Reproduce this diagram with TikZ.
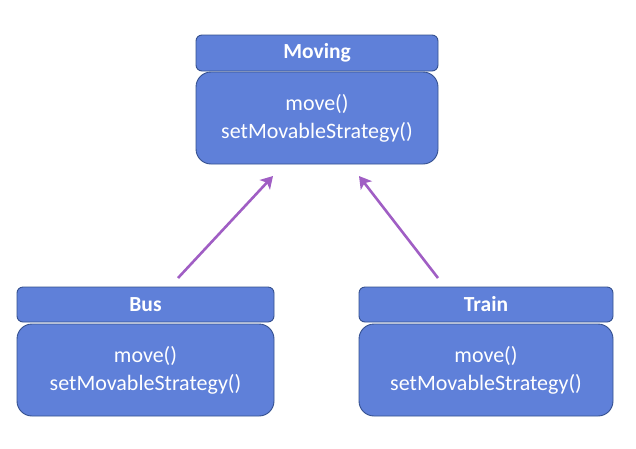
\documentclass[tikz,border=0pt]{standalone}
\usepackage{fontspec}
\setmainfont{Carlito}
\usetikzlibrary{arrows.meta}
\definecolor{boxfill}{HTML}{5F80D9}
\definecolor{boxline}{HTML}{34508F}
\definecolor{arrowc}{HTML}{A05EC4}
\tikzset{
  hdr/.style={draw=boxline, fill=boxfill, line width=0.9pt, rounded corners=6pt, text=white, font=\bfseries\fontsize{21.5}{24}\selectfont, inner sep=0pt},
  bdy/.style={draw=boxline, fill=boxfill, line width=0.9pt, rounded corners=15pt, text=white, font=\fontsize{22}{28}\selectfont, align=center, inner sep=0pt},
  inh/.style={draw=arrowc, line width=2.6pt, -{Stealth[length=12pt,width=14pt,inset=3pt]}}
}
\begin{document}
\begin{tikzpicture}[x=1pt,y=-1pt]
\useasboundingbox (0,0) rectangle (636,448);
% Moving
\node[hdr, minimum width=242pt, minimum height=36pt] (movH) at (317,53) {Moving};
\node[bdy, minimum width=242pt, minimum height=92pt] (movB) at (317,118) {move()\\setMovableStrategy()};
% Bus
\node[hdr, minimum width=257pt, minimum height=35pt] (busH) at (145.5,304.5) {Bus};
\node[bdy, minimum width=257pt, minimum height=92pt] (busB) at (145.5,370) {move()\\setMovableStrategy()};
% Train
\node[hdr, minimum width=254pt, minimum height=35pt] (trH) at (486,304.5) {Train};
\node[bdy, minimum width=254pt, minimum height=92pt] (trB) at (486,370) {move()\\setMovableStrategy()};
% connector ends
\coordinate (busTop) at (178,278);
\coordinate (movL) at (273,176);
\coordinate (trTop) at (438,278);
\coordinate (movR) at (359,176);
\draw[inh] (busTop) -- (movL);
\draw[inh] (trTop) -- (movR);
\end{tikzpicture}
\end{document}
